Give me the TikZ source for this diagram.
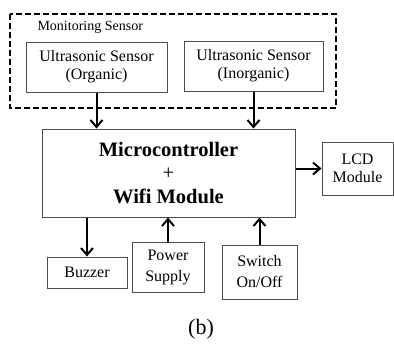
\documentclass[tikz,border=0pt]{standalone}
\usepackage{fontspec}
\setmainfont{Liberation Serif}
\usetikzlibrary{arrows.meta}
\begin{document}
\begin{tikzpicture}[x=1pt,y=-1pt,
  box/.style={draw=black!70,line width=1pt,align=center,inner sep=0pt},
  arr/.style={line width=2pt,-{Straight Barb[length=7pt,width=12pt,line width=2pt]}},
  dashbox/.style={draw,line width=2.5pt,dash pattern=on 6pt off 3pt}]
\useasboundingbox (0,0) rectangle (394,351);
% dashed group
\draw[dashbox] (10,14) rectangle (336,108);
\node[anchor=west,font=\fontsize{14}{16}\selectfont] (mon) at (34,27) {Monitoring Sensor};
% sensors
\node[box,minimum width=141pt,minimum height=50pt,font=\fontsize{16}{18}\selectfont] (org) at (96.5,67) {Ultrasonic Sensor\\(Organic)};
\node[box,minimum width=139pt,minimum height=50pt,font=\fontsize{16}{18}\selectfont] (inorg) at (253.5,66) {Ultrasonic Sensor\\(Inorganic)};
% micro
\node[box,minimum width=253pt,minimum height=88pt,font=\fontsize{20.5}{23.5}\selectfont\bfseries] (micro) at (168.5,173) {Microcontroller\\{\mdseries +}\\Wifi Module};
% LCD
\node[box,minimum width=71pt,minimum height=53pt,font=\fontsize{16}{18}\selectfont] (lcd) at (357.5,168.5) {LCD\\Module};
% bottom
\node[box,minimum width=80pt,minimum height=31pt,font=\fontsize{16}{18}\selectfont] (buz) at (87,272.5) {Buzzer};
\node[box,minimum width=72pt,minimum height=50pt,font=\fontsize{16}{21}\selectfont] (pow) at (168,267) {Power\\Supply};
\node[box,minimum width=75pt,minimum height=54pt,font=\fontsize{16}{21}\selectfont] (sw) at (259.5,272) {Switch\\On/Off};
% arrows
\draw[arr] (org.south) -- (org.south |- micro.north);
\draw[arr] (inorg.south) -- (inorg.south |- micro.north);
\draw[arr] (micro.east |- lcd.west) -- (lcd.west);
\draw[arr] (buz.north |- micro.south) -- (buz.north);
\draw[arr] (pow.north) -- (pow.north |- micro.south);
\draw[arr] (sw.north) -- (sw.north |- micro.south);
% caption
\node[font=\fontsize{22}{24}\selectfont] (cap) at (201,329) {(b)};
\end{tikzpicture}
\end{document}
